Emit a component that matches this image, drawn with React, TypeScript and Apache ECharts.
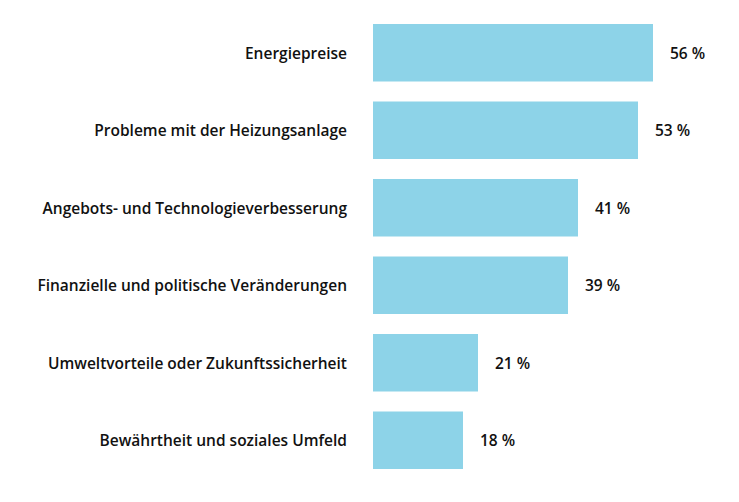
import { useEffect, useRef } from 'react';
import * as echarts from 'echarts';

const categories = [
  'Energiepreise',
  'Probleme mit der Heizungsanlage',
  'Angebots- und Technologieverbesserung',
  'Finanzielle und politische Veränderungen',
  'Umweltvorteile oder Zukunftssicherheit',
  'Bewährtheit und soziales Umfeld',
];
const values = [56, 53, 41, 39, 21, 18];

const font = { color: '#111', fontFamily: 'Open Sans', fontWeight: 600, fontSize: 15.5 };

export default function App() {
  const chartRef = useRef<HTMLDivElement>(null);
  useEffect(() => {
    document.body.style.margin = '0';
    if (!chartRef.current) return;
    const chart = echarts.init(chartRef.current, undefined, { renderer: 'svg' });
    chart.setOption({
      animation: false,
      grid: { left: 373, right: 16, top: 14, bottom: 23, containLabel: false },
      xAxis: {
        type: 'value',
        min: 0,
        max: 70,
        show: false,
      },
      yAxis: {
        type: 'category',
        inverse: true,
        data: categories,
        axisLine: { show: false },
        axisTick: { show: false },
        axisLabel: { margin: 26, ...font },
      },
      series: [
        {
          type: 'bar',
          data: values,
          barCategoryGap: '26%',
          itemStyle: { color: '#8dd3e8' },
          label: {
            show: true,
            position: 'right',
            distance: 17,
            formatter: '{c} %',
            ...font,
          },
        },
      ],
    });
    return () => chart.dispose();
  }, []);
  return <div ref={chartRef} style={{ width: 739, height: 502 }} />;
}
